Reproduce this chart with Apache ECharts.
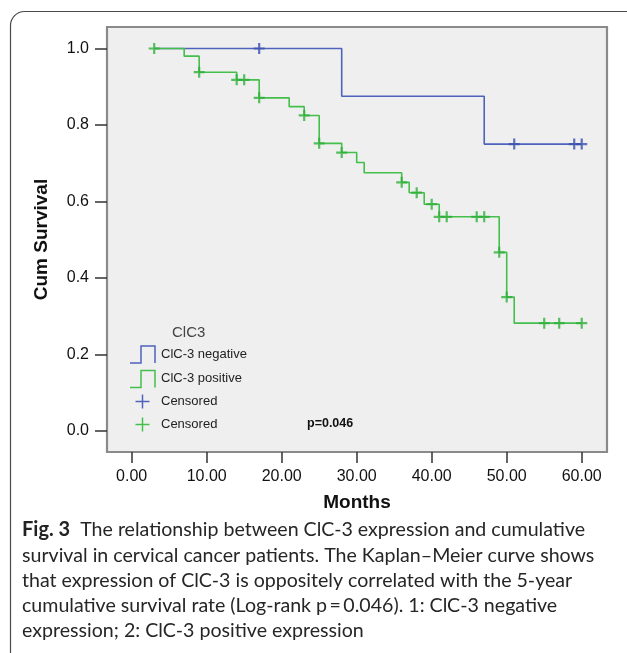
<!DOCTYPE html>
<html><head><meta charset="utf-8">
<script src="https://cdn.jsdelivr.net/npm/echarts@6/dist/echarts.min.js"></script>
<style>html,body{margin:0;padding:0;background:#fff}#c{width:627px;height:653px}</style>
</head><body><div id="c"></div><script>
// ---- data ----
const xTicks = [0, 10, 20, 30, 40, 50, 60];
const yTicks = [0, 0.2, 0.4, 0.6, 0.8, 1.0];
const negTimes = [3, 28, 47, 60];
const negSurv  = [1.0, 0.875, 0.75, 0.75];
const posTimes = [3, 7, 9, 14, 17, 21, 23, 25, 28, 30, 31, 36, 37, 39, 41, 49, 50, 51, 60];
const posSurv  = [1.0, 0.980, 0.938, 0.918, 0.871, 0.848, 0.825, 0.752, 0.728, 0.702, 0.675, 0.650, 0.623, 0.593, 0.560, 0.467, 0.350, 0.282, 0.282];
const negCensT = [17, 51, 59, 60];
const negCensS = [1.0, 0.75, 0.75, 0.75];
const posCensT = [3, 9, 14, 15, 17, 23, 25, 28, 36, 38, 40, 41, 42, 46, 47, 49, 50, 55, 57, 60];
const posCensS = [1.0, 0.938, 0.918, 0.918, 0.871, 0.825, 0.752, 0.728, 0.650, 0.623, 0.593, 0.560, 0.560, 0.560, 0.560, 0.467, 0.350, 0.282, 0.282, 0.282];
const legendTitle = 'ClC3';
const legendLabels = ['ClC-3 negative', 'ClC-3 positive', 'Censored', 'Censored'];
const pText = 'p=0.046';
const captionBold = 'Fig. 3';
const captionLines = [
  '  The relationship between ClC-3 expression and cumulative',
  'survival in cervical cancer patients. The Kaplan\u2013Meier curve shows',
  'that expression of ClC-3 is oppositely correlated with the 5-year',
  'cumulative survival rate (Log-rank p\u2009=\u20090.046). 1: ClC-3 negative',
  'expression; 2: ClC-3 positive expression'
];

// ---- styles ----
const BLUE = '#4f63bd', GREEN = '#44bf4c', BLUE_M = '#3b4fae', GREEN_M = '#2fb03b';
const AX = 'Liberation Sans, Arial, sans-serif';
const CAP = 'Lato, sans-serif';
const PLUS = 'path://M4,0H6V4H10V6H6V10H4V6H0V4H4Z';

const chart = echarts.init(document.getElementById('c'), null, {renderer: 'canvas'});
const pairs = (t, s) => t.map((v, i) => [v, s[i]]);

const graphic = [
  {type: 'rect', z: -10, shape: {x: 10.5, y: 11.5, width: 680, height: 720, r: [14, 0, 0, 0]},
   style: {fill: 'none', stroke: '#4a4a4a', lineWidth: 1.2}},
  {type: 'rect', z: -5, shape: {x: 107, y: 27, width: 500, height: 425},
   style: {fill: '#efefef', stroke: '#8a8a8a', lineWidth: 2.2}},
  {type: 'text', x: 172, y: 333, style: {text: legendTitle, fontFamily: AX, fontSize: 15, fill: '#444', verticalAlign: 'middle'}}
];
const legY = [354, 378.5, 401.5, 424.5];
const legCol = [BLUE, GREEN, BLUE, GREEN];
legendLabels.forEach((lab, i) => {
  const y = legY[i];
  if (i < 2) {
    graphic.push({type: 'polyline', shape: {points: [[130, y + 9], [141, y + 9], [141, y - 8], [155, y - 8], [155, y + 9]]},
      style: {stroke: legCol[i], lineWidth: 1.5, fill: 'none'}});
  } else {
    graphic.push({type: 'line', shape: {x1: 142.5, y1: y - 7, x2: 142.5, y2: y + 7}, style: {stroke: legCol[i], lineWidth: 1.5}});
    graphic.push({type: 'line', shape: {x1: 135.5, y1: y, x2: 149.5, y2: y}, style: {stroke: legCol[i], lineWidth: 1.5}});
  }
  graphic.push({type: 'text', x: 161, y: y, style: {text: lab, fontFamily: AX, fontSize: 13, fill: '#222', verticalAlign: 'middle'}});
});
graphic.push({type: 'text', x: 307, y: 423.5, style: {text: pText, fontFamily: AX, fontSize: 12.5, fontWeight: 'bold', fill: '#111', verticalAlign: 'middle'}});

const capY = [530, 556, 581, 606, 631];
captionLines.forEach((ln, i) => {
  graphic.push({type: 'text', x: 22, y: capY[i], style: {
    text: i === 0 ? '{b|' + captionBold + '}' + ln : ln,
    fontFamily: CAP, fontSize: 19.6, fill: '#262626', verticalAlign: 'middle',
    rich: {b: {fontFamily: CAP, fontSize: 20, fontWeight: 'bold', fill: '#222'}}
  }});
});

chart.setOption({
  animation: false,
  backgroundColor: '#fff',
  grid: {left: 107, top: 27, width: 500, height: 425},
  xAxis: {
    type: 'value', min: -3.29, max: 63.37,
    axisLine: {show: false, onZero: false}, splitLine: {show: false},
    axisTick: {show: true, customValues: xTicks, length: 11, lineStyle: {color: '#333', width: 1.5}},
    axisLabel: {customValues: xTicks, formatter: v => v.toFixed(2), fontFamily: AX, fontSize: 16, color: '#111', margin: 17},
    name: 'Months', nameLocation: 'middle', nameGap: 41,
    nameTextStyle: {fontFamily: AX, fontWeight: 'bold', fontSize: 19, color: '#111'}
  },
  yAxis: {
    type: 'value', min: -0.0549, max: 1.0562,
    axisLine: {show: false, onZero: false}, splitLine: {show: false},
    axisTick: {show: true, customValues: yTicks, length: 12, lineStyle: {color: '#333', width: 1.5}},
    axisLabel: {customValues: yTicks, formatter: v => v.toFixed(1), fontFamily: AX, fontSize: 16, color: '#111', margin: 18},
    name: 'Cum Survival', nameLocation: 'middle', nameGap: 56,
    nameTextStyle: {fontFamily: AX, fontWeight: 'bold', fontSize: 19, color: '#111'}
  },
  graphic: graphic,
  series: [
    {type: 'line', step: 'end', data: pairs(negTimes, negSurv), symbol: 'none', clip: false, z: 2,
     lineStyle: {color: BLUE, width: 1.6}},
    {type: 'line', step: 'end', data: pairs(posTimes, posSurv), symbol: 'none', clip: false, z: 3,
     lineStyle: {color: GREEN, width: 1.6}},
    {type: 'scatter', data: pairs(negCensT, negCensS), symbol: PLUS, symbolSize: 11, clip: false, z: 4,
     itemStyle: {color: BLUE_M}},
    {type: 'scatter', data: pairs(posCensT, posCensS), symbol: PLUS, symbolSize: 11, clip: false, z: 5,
     itemStyle: {color: GREEN_M}}
  ]
});
</script></body></html>
